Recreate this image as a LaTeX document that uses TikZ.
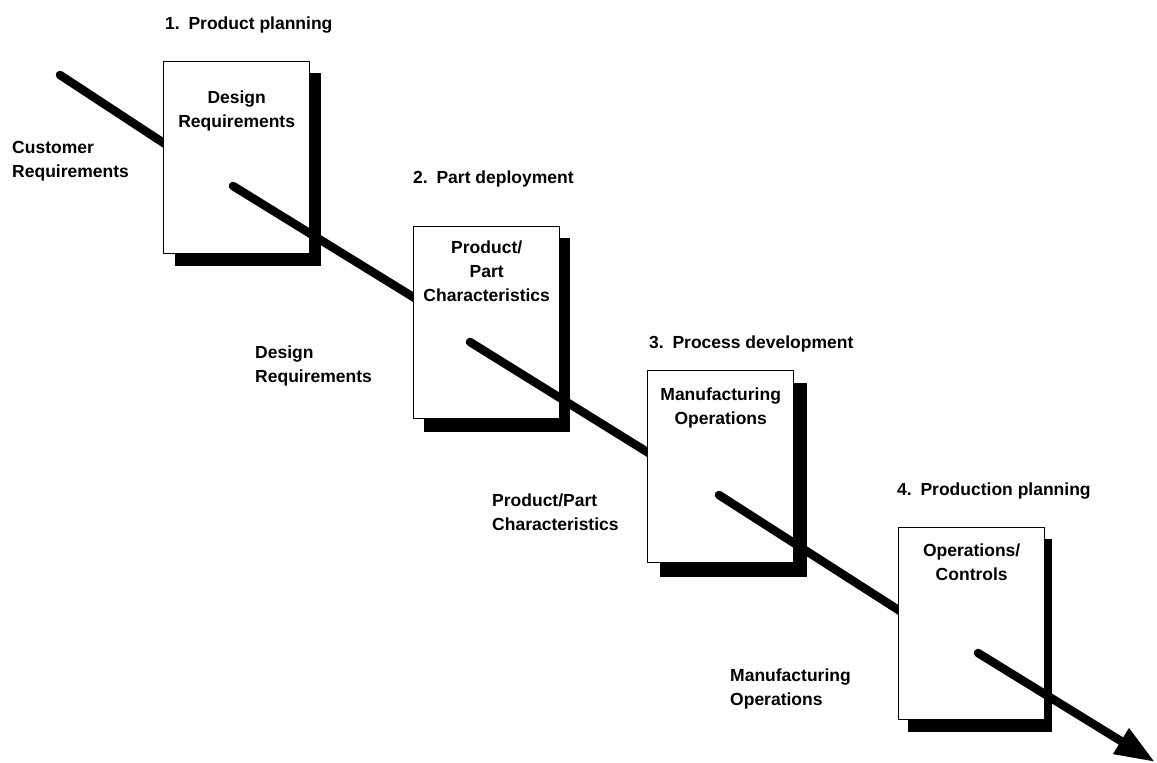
\documentclass[tikz,border=0pt]{standalone}
\usepackage{fontspec}
\setmainfont{Liberation Sans}
\usetikzlibrary{arrows.meta,calc}
\begin{document}
\begin{tikzpicture}[x=1pt,y=-1pt,
  font=\bfseries\fontsize{17.5}{24}\selectfont,
  stagebox/.style={draw=black,line width=1.4pt,fill=white,minimum width=146pt,minimum height=192pt,anchor=north west,inner sep=0pt},
  shadowfill/.style={fill=black},
  flow/.style={line width=8.5pt,line cap=round},
  boxtext/.style={anchor=north,align=center,inner sep=0pt},
  heading/.style={anchor=west,inner sep=0pt},
  inlabel/.style={anchor=west,align=left,inner sep=0pt}]
\useasboundingbox (0,0) rectangle (1157,763);

% named points where each flow segment starts and enters the next sheet
\coordinate (s1) at (60,75);
\coordinate (s2) at (233,186);
\coordinate (s3) at (470,342);
\coordinate (s4) at (719,495);
\coordinate (s5) at (978,653);
\coordinate (tip) at (1155,762);

% stage 1
\draw[flow] (s1) -- (172,148.5);
\fill[shadowfill] (175,73) rectangle (321,266);
\node[stagebox] (b1) at (163,61) {};
\node[boxtext] (t1) at ([yshift=-30pt]b1.north) {Design\\Requirements};
\node[heading] (h1) at (165,25) {1.\enspace Product planning};
\node[inlabel] (c1) at (12,161) {Customer\\Requirements};

% stage 2
\draw[flow] (s2) -- (422,302.5);
\fill[shadowfill] (424,238) rectangle (570,432);
\node[stagebox] (b2) at (413,226) {};
\node[boxtext] (t2) at ([yshift=-15pt]b2.north) {Product/\\Part\\Characteristics};
\node[heading] (h2) at (413,179) {2.\enspace Part deployment};
\node[inlabel] (c2) at (255,366) {Design\\Requirements};

% stage 3
\draw[flow] (s3) -- (656,457.5);
\fill[shadowfill] (660,383) rectangle (807,577);
\node[stagebox] (b3) at (647,370) {};
\node[boxtext] (t3) at ([yshift=-18pt]b3.north) {Manufacturing\\Operations};
\node[heading] (h3) at (649,344) {3.\enspace Process development};
\node[inlabel] (c3) at (492,512) {Product/Part\\Characteristics};

% stage 4
\draw[flow] (s4) -- (907,615.5);
\fill[shadowfill] (908,539) rectangle (1052,732);
\node[stagebox] (b4) at (898,527) {};
\node[boxtext] (t4) at ([yshift=-17pt]b4.north) {Operations/\\Controls};
\node[heading] (h4) at (897,491) {4.\enspace Production planning};
\node[inlabel] (c4) at (730,689) {Manufacturing\\Operations};

% outgoing arrow
\draw[flow,-{Triangle[length=40pt,width=28pt]}] (s5) -- (tip);
\end{tikzpicture}
\end{document}
